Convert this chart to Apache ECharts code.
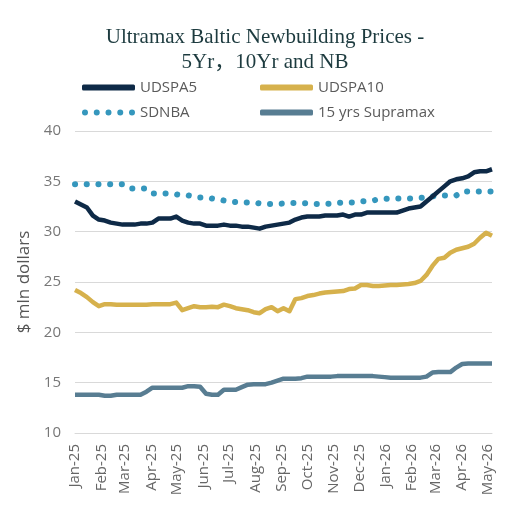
<!DOCTYPE html>
<html>
<head>
<meta charset="utf-8">
<script src="https://cdn.jsdelivr.net/npm/echarts@6/dist/echarts.min.js"></script>
<style>
html,body{margin:0;padding:0;background:#ffffff;}
#chart{width:530px;height:512px;}
</style>
</head>
<body>
<div id="chart"></div>
<script>
const monthLabels = ['Jan-25','Feb-25','Mar-25','Apr-25','May-25','Jun-25','Jul-25','Aug-25','Sep-25','Oct-25','Nov-25','Dec-25','Jan-26','Feb-26','Mar-26','Apr-26','May-26'];
const startDate = [2025, 0, 1];
const stepDays = 7;

const udspa5 = [33.0,32.7,32.4,31.6,31.2,31.1,30.9,30.8,30.7,30.7,30.7,30.8,30.8,30.9,31.3,31.3,31.3,31.5,31.1,30.9,
30.8,30.8,30.6,30.6,30.6,30.7,30.6,30.6,30.5,30.5,30.4,30.3,30.5,30.6,30.7,30.8,30.9,31.2,31.4,31.5,
31.5,31.5,31.6,31.6,31.6,31.7,31.5,31.7,31.7,31.9,31.9,31.9,31.9,31.9,31.9,32.1,32.3,32.4,32.5,33.0,
33.5,34.0,34.5,35.0,35.2,35.3,35.5,35.9,36.0,36.0,36.2];

const udspa10 = [24.2,23.9,23.5,23.0,22.6,22.8,22.8,22.75,22.75,22.75,22.75,22.75,22.75,22.8,22.8,22.8,22.8,22.95,22.2,22.4,
22.6,22.5,22.5,22.55,22.5,22.75,22.6,22.4,22.3,22.2,22.0,21.9,22.3,22.5,22.1,22.4,22.1,23.3,23.4,23.6,
23.7,23.85,23.95,24.0,24.05,24.1,24.3,24.35,24.7,24.7,24.6,24.6,24.65,24.7,24.7,24.75,24.8,24.9,25.1,25.7,
26.6,27.3,27.4,27.9,28.2,28.35,28.5,28.8,29.4,29.9,29.6];

const sdnba = [34.7,34.7,34.7,34.7,34.7,34.7,34.7,34.7,34.7,34.3,34.3,34.3,34.3,33.8,33.8,33.8,33.8,33.7,33.6,33.6,
33.5,33.4,33.4,33.3,33.2,33.1,33.0,32.95,32.9,32.9,32.9,32.8,32.75,32.75,32.75,32.8,32.85,32.85,32.85,32.8,
32.75,32.75,32.75,32.8,32.85,32.9,32.9,32.9,33.0,33.05,33.1,33.2,33.25,33.3,33.3,33.3,33.3,33.3,33.35,33.4,
33.5,33.6,33.6,33.6,33.6,34.0,34.0,34.0,34.0,34.0,34.0];

const supramax = [13.8,13.8,13.8,13.8,13.8,13.7,13.7,13.8,13.8,13.8,13.8,13.8,14.1,14.5,14.5,14.5,14.5,14.5,14.5,14.65,
14.65,14.6,13.9,13.8,13.8,14.3,14.3,14.3,14.55,14.8,14.85,14.85,14.85,15.0,15.2,15.4,15.4,15.4,15.45,15.6,
15.6,15.6,15.6,15.6,15.65,15.65,15.65,15.65,15.65,15.65,15.65,15.6,15.55,15.5,15.5,15.5,15.5,15.5,15.5,15.6,
16.0,16.05,16.05,16.05,16.5,16.85,16.9,16.9,16.9,16.9,16.9];

function weekDate(i){
  return new Date(startDate[0], startDate[1], startDate[2] + stepDays * i).getTime();
}
function toPairs(arr){ return arr.map((v,i)=>[weekDate(i), v]); }

const chart = echarts.init(document.getElementById('chart'), null, {renderer:'canvas'});
const DAY = 86400000;
const axisMin = new Date(2025,0,1).getTime();
const axisMax = weekDate(udspa5.length - 1);

// five-dot legend icon
function circ(cx, cy, r){
  return 'M' + (cx - r) + ',' + cy + ' a' + r + ',' + r + ' 0 1,0 ' + (2*r) + ',0 a' + r + ',' + r + ' 0 1,0 ' + (-2*r) + ',0 Z ';
}
let dotPath = 'path://';
for (let k = 0; k < 5; k++) dotPath += circ(3 + k * 11.75, 3, 3);

const legendText = {fontFamily:'Open Sans', fontSize:15, color:'#5a5a5a'};

chart.setOption({
  backgroundColor: '#ffffff',
  animation: false,
  title: {
    text: 'Ultramax Baltic Newbuilding Prices -\n5Yr，10Yr and NB',
    left: 'center',
    top: 20,
    textStyle: {
      fontFamily: '"Liberation Serif", "Noto Sans CJK SC"',
      fontSize: 21,
      fontWeight: 'normal',
      color: '#1d3b3f',
      lineHeight: 25
    }
  },
  legend: [
    {
      data: [{name:'UDSPA5', icon:'roundRect'}, {name:'SDNBA', icon: dotPath}],
      orient: 'vertical',
      left: 77, top: 75,
      itemWidth: 53, itemHeight: 6, itemGap: 10,
      textStyle: legendText
    },
    {
      data: [{name:'UDSPA10', icon:'roundRect'}, {name:'15 yrs Supramax', icon:'roundRect'}],
      orient: 'vertical',
      left: 255, top: 75,
      itemWidth: 53, itemHeight: 6, itemGap: 10,
      textStyle: legendText
    }
  ],
  grid: {left: 75, right: 38, top: 131, bottom: 79, containLabel: false},
  xAxis: {
    type: 'time',
    min: axisMin,
    max: axisMax,
    splitNumber: 16,
    minInterval: 28 * DAY,
    maxInterval: 31 * DAY,
    axisLine: {show: true, lineStyle: {color: '#d9d9d9', width: 1}},
    axisTick: {show: false},
    splitLine: {show: false},
    axisLabel: {
      rotate: 90,
      fontFamily: 'Open Sans',
      fontSize: 15,
      color: '#666666',
      margin: 11,
      hideOverlap: false,
      formatter: function(v){
        const d = new Date(v);
        const idx = (d.getFullYear() - 2025) * 12 + d.getMonth();
        return (d.getDate() === 1 && monthLabels[idx]) ? monthLabels[idx] : '';
      }
    }
  },
  yAxis: {
    type: 'value',
    min: 10, max: 40, interval: 5,
    name: '$ mln dollars',
    nameLocation: 'middle',
    nameGap: 40,
    nameTextStyle: {fontFamily:'Open Sans', fontSize:17, color:'#555555'},
    axisLine: {show: false},
    axisTick: {show: false},
    axisLabel: {fontFamily:'Open Sans', fontSize:15, color:'#777777', margin: 14},
    splitLine: {lineStyle: {color: '#d9d9d9', width: 1}}
  },
  series: [
    {
      name: 'UDSPA5', type: 'line', data: toPairs(udspa5),
      showSymbol: false, symbol: 'none',
      lineStyle: {color: '#0e2a47', width: 4.5, join: 'round'},
      itemStyle: {color: '#0e2a47'}, z: 5
    },
    {
      name: 'UDSPA10', type: 'line', data: toPairs(udspa10),
      showSymbol: false, symbol: 'none',
      lineStyle: {color: '#d6b14c', width: 4.5, join: 'round'},
      itemStyle: {color: '#d6b14c'}
    },
    {
      name: 'SDNBA', type: 'line', data: toPairs(sdnba),
      showSymbol: false, symbol: 'none',
      lineStyle: {color: '#3597bd', width: 6, type: [0.1, 11.6], cap: 'round'},
      itemStyle: {color: '#3597bd'}
    },
    {
      name: '15 yrs Supramax', type: 'line', data: toPairs(supramax),
      showSymbol: false, symbol: 'none',
      lineStyle: {color: '#587d92', width: 4.5, join: 'round'},
      itemStyle: {color: '#587d92'}
    }
  ]
});
</script>
</body>
</html>
